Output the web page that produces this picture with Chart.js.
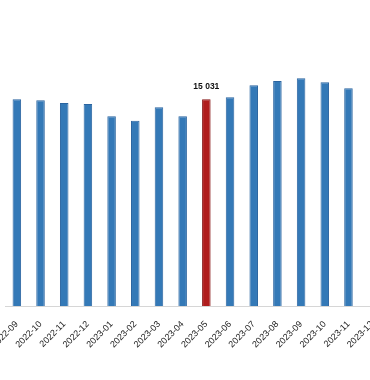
<!DOCTYPE html>
<html>
<head>
<meta charset="utf-8">
<script src="https://cdn.jsdelivr.net/npm/chart.js@4"></script>
<style>
  html, body { margin: 0; padding: 0; background: #fff; overflow: hidden; width: 370px; height: 380px; }
  #wrap { position: absolute; left: 0; top: 0; width: 390px; height: 380px; }
</style>
</head>
<body>
<div id="wrap"><canvas id="c"></canvas></div>
<script>
const months = ["2022-09","2022-10","2022-11","2022-12","2023-01","2023-02","2023-03","2023-04","2023-05","2023-06","2023-07","2023-08","2023-09","2023-10","2023-11","2023-12"];
const values = [15040, 14960, 14760, 14690, 13800, 13480, 14450, 13800, 15031, 15180, 16050, 16360, 16560, 16270, 15830, null];
const highlightMonth = "2023-05";

const hi = months.indexOf(highlightMonth);
const fillColors = months.map((m, i) => i === hi ? "#b01d1d" : "#3479b7");
const borderColors = months.map((m, i) => i === hi ? "#861414" : "#2a64a0");

function fmt(v) {
  return String(Math.round(v)).replace(/\B(?=(\d{3})+(?!\d))/g, " ");
}

const valueLabel = {
  id: "valueLabel",
  afterDatasetsDraw(chart) {
    const meta = chart.getDatasetMeta(0);
    const el = meta.data[hi];
    if (!el) return;
    const ctx = chart.ctx;
    ctx.save();
    ctx.font = "bold 8.5px 'Liberation Sans', Arial, sans-serif";
    ctx.fillStyle = "#111";
    ctx.textAlign = "center";
    ctx.textBaseline = "bottom";
    ctx.fillText(fmt(values[hi]), el.x, el.y - 8);
    ctx.restore();
  }
};

new Chart(document.getElementById("c"), {
  type: "bar",
  data: {
    labels: months,
    datasets: [{
      data: values,
      backgroundColor: fillColors,
      borderColor: borderColors,
      borderWidth: 1,
      categoryPercentage: 1,
      barPercentage: 0.36
    }]
  },
  options: {
    responsive: true,
    maintainAspectRatio: false,
    animation: false,
    layout: { padding: { left: 5, right: 6, top: 31, bottom: 0 } },
    plugins: { legend: { display: false }, tooltip: { enabled: false } },
    scales: {
      x: {
        grid: { display: false, drawTicks: false },
        border: { display: true, color: "#d6d6d6", width: 1 },
        ticks: {
          minRotation: 45, maxRotation: 45, autoSkip: false,
          padding: 13,
          color: "#222",
          font: { family: "'Liberation Sans', Arial, sans-serif", size: 9 }
        },
        afterFit(scale) {
          scale.paddingLeft = 0;
          scale.paddingRight = 0;
          scale.height = 74;
        }
      },
      y: {
        display: false,
        min: 0,
        max: 20000
      }
    }
  },
  plugins: [valueLabel]
});
</script>
</body>
</html>
